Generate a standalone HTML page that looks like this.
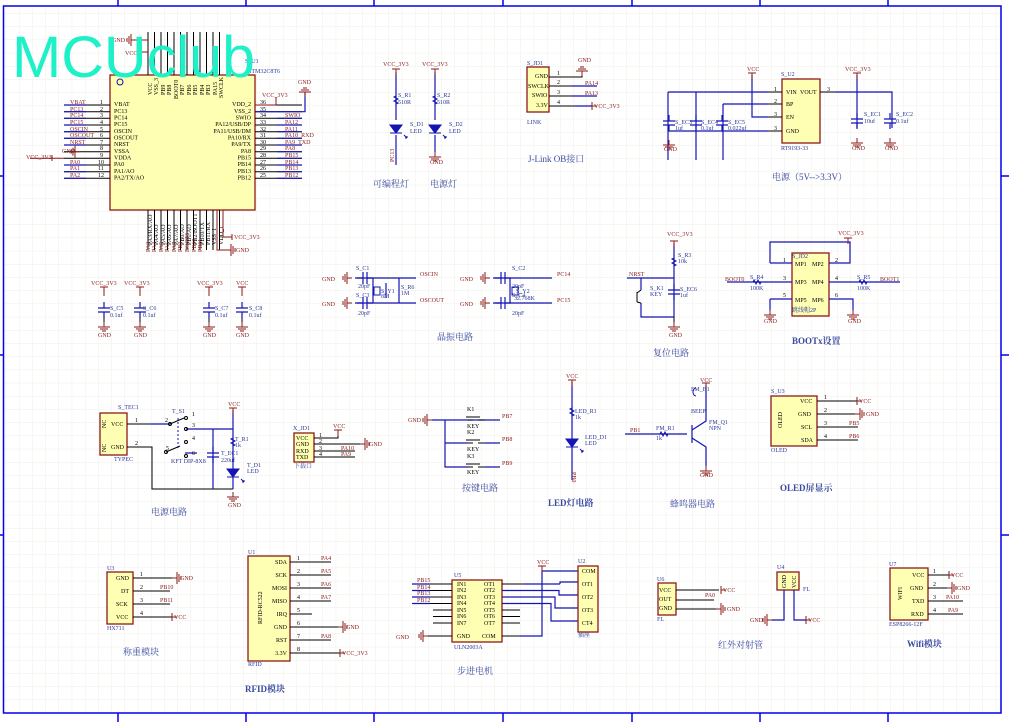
<!DOCTYPE html>
<html><head><meta charset="utf-8"><style>
html,body{margin:0;padding:0;background:#fff;}
svg{display:block;font-family:"Liberation Serif","Noto Serif CJK SC",serif;}
.w{stroke:#1414b4;stroke-width:1.2;fill:none}
.k{stroke:#000;stroke-width:1;fill:none}
.rd{stroke:#8b1a1a;stroke-width:1;fill:none}
.box{fill:#ffffb4;stroke:#8b1a1a;stroke-width:1.3}
.t{font-size:6px;fill:#000}
.r{font-size:6px;fill:#8b1a1a}
.b{font-size:6px;fill:#2a3a9a}
.h{font-size:9px;fill:#3a4aa0;font-family:"Liberation Serif","Noto Serif CJK SC",serif}
.bd{stroke:#0000ee;stroke-width:1.5;fill:none}
</style></head><body>
<svg width="1009" height="722" viewBox="0 0 1009 722" xmlns="http://www.w3.org/2000/svg">
<defs>
<pattern id="g" x="5.7" y="0" width="13.2" height="13.2" patternUnits="userSpaceOnUse">
<path d="M0 0H13.2M0 0V13.2" stroke="#efede6" stroke-width="1" fill="none"/>
</pattern>
<g id="gd"><path d="M0 -5V0M-6 0H6M-4 2H4M-2 4H2" stroke="#8b1a1a" stroke-width="1" fill="none"/></g>
<g id="gl"><path d="M0 0H-5M-5 -6V6M-7 -4V4M-9 -2V2" stroke="#8b1a1a" stroke-width="1" fill="none"/></g>
<g id="gr"><path d="M0 0H5M5 -6V6M7 -4V4M9 -2V2" stroke="#8b1a1a" stroke-width="1" fill="none"/></g>
<g id="pu"><path d="M0 0V6M-4 0H4" stroke="#8b1a1a" stroke-width="1" fill="none"/></g>
<g id="pr"><path d="M0 0H-5M0 -4V4" stroke="#8b1a1a" stroke-width="1" fill="none"/></g>
<g id="cv"><path d="M0 -8V-2M-6 -2H6M-6 2H6M0 2V8" stroke="#1414b4" stroke-width="1.2" fill="none"/></g>
<g id="ch"><path d="M-8 0H-2M-2 -6V6M2 -6V6M2 0H8" stroke="#1414b4" stroke-width="1.2" fill="none"/></g>
<g id="rv"><path d="M0 -7V-4L-2 -3L2 -1L-2 1L2 3L0 4V7" stroke="#1414b4" stroke-width="1" fill="none"/></g>
<g id="rh"><path d="M-7 0H-4L-3 -2L-1 2L1 -2L3 2L4 0H7" stroke="#1414b4" stroke-width="1" fill="none"/></g>
<g id="led"><path d="M-6 -4H6L0 4ZM-6 4H6" fill="#1414b4" stroke="#1414b4"/><path d="M8 6l3 3M11 9l-2 0M11 9l0 -2" stroke="#1414b4"/></g>
</defs>
<rect x="3.5" y="6" width="997.5" height="707" fill="url(#g)"/>
<rect x="3.5" y="6" width="997.5" height="707" class="bd"/>
<path class="bd" d="M118 0V6M246 0V6M374 0V6M503 0V6M632 0V6M760 0V6M888 0V6M118 713V722M246 713V722M374 713V722M503 713V722M632 713V722M760 713V722M888 713V722M0 176H3.5M0 355H3.5M0 535H3.5M1001 176H1009M1001 355H1009M1001 535H1009" stroke-width="1"/>

<!-- MCU -->
<rect class="box" x="110" y="75" width="145" height="135"/>
<circle cx="120" cy="82" r="3" fill="none" stroke="#1414b4"/>
<g class="k">
<path d="M64 105H110M64 111.7H110M64 118.3H110M64 125H110M64 131.7H110M64 138.3H110M64 145H110M64 151.7H110M64 158.3H110M64 165H110M64 171.7H110M64 178.3H110"/>
<path d="M255 105H302M255 111.7H302M255 118.3H302M255 125H302M255 131.7H302M255 138.3H302M255 145H302M255 151.7H302M255 158.3H302M255 165H302M255 171.7H302M255 178.3H302"/>
<path d="M148 32V75M154.5 32V75M161 32V75M167.5 32V75M174 32V75M180.5 32V75M187 32V75M193.5 32V75M200 32V75M206.5 32V75M213 32V75M219.5 32V75"/>
<path d="M148 210V250M154.5 210V250M161 210V250M167.5 210V250M174 210V250M180.5 210V250M187 210V250M193.5 210V250M200 210V250M206.5 210V250M213 210V250M219.5 210V250"/>
</g>
<g class="w"><path d="M64 105H86M64 111.7H86M64 118.3H86M64 125H86M64 131.7H86M64 138.3H86M64 145H86M64 165H86M64 171.7H86M64 178.3H86"/>
<path d="M277 118.3H302M277 125H302M277 131.7H302M277 138.3H302M277 145H302M277 151.7H302M277 158.3H302M277 165H302M277 171.7H302M277 178.3H302M255 111.7H305V92"/></g>
<use href="#gd" x="305" y="92" transform="rotate(180 305 92)"/>
<text class="r" x="298" y="84">GND</text>
<path class="rd" d="M255 105H276V97"/><text class="r" x="262" y="97">VCC_3V3</text>
<g class="t" font-size="5.5">
<text x="114" y="106">VBAT</text><text x="114" y="113">PC13</text><text x="114" y="119.5">PC14</text><text x="114" y="126">PC15</text><text x="114" y="133">OSCIN</text><text x="114" y="139.5">OSCOUT</text><text x="114" y="146">NRST</text><text x="114" y="153">VSSA</text><text x="114" y="159.5">VDDA</text><text x="114" y="166">PA0</text><text x="114" y="173">PA1/AO</text><text x="114" y="179.5">PA2/TX/AO</text>
<text x="251" y="106" text-anchor="end">VDD_2</text><text x="251" y="113" text-anchor="end">VSS_2</text><text x="251" y="119.5" text-anchor="end">SWIO</text><text x="251" y="126" text-anchor="end">PA12/USB/DP</text><text x="251" y="133" text-anchor="end">PA11/USB/DM</text><text x="251" y="139.5" text-anchor="end">PA10/RX</text><text x="251" y="146" text-anchor="end">PA9/TX</text><text x="251" y="153" text-anchor="end">PA8</text><text x="251" y="159.5" text-anchor="end">PB15</text><text x="251" y="166" text-anchor="end">PB14</text><text x="251" y="173" text-anchor="end">PB13</text><text x="251" y="179.5" text-anchor="end">PB12</text>
<text x="100" y="104">1</text><text x="100" y="111">2</text><text x="100" y="117">3</text><text x="100" y="124">4</text><text x="100" y="131">5</text><text x="100" y="137">6</text><text x="100" y="144">7</text><text x="100" y="150">8</text><text x="100" y="157">9</text><text x="98" y="164">10</text><text x="98" y="170">11</text><text x="98" y="177">12</text>
<text x="260" y="104">36</text><text x="260" y="111">35</text><text x="260" y="117">34</text><text x="260" y="124">33</text><text x="260" y="131">32</text><text x="260" y="137">31</text><text x="260" y="144">30</text><text x="260" y="150">29</text><text x="260" y="157">28</text><text x="260" y="164">27</text><text x="260" y="170">26</text><text x="260" y="177">25</text>
</g>
<g class="r" font-size="5.5">
<text x="70" y="104">VBAT</text><text x="70" y="111">PC13</text><text x="70" y="117">PC14</text><text x="70" y="124">PC15</text><text x="70" y="131">OSCIN</text><text x="70" y="137">OSCOUT</text><text x="70" y="144">NRST</text><text x="62" y="153">GND</text><text x="26" y="159">VCC_3V3</text><text x="70" y="164">PA0</text><text x="70" y="170">PA1</text><text x="70" y="177">PA2</text>
<text x="285" y="117">SWIO</text><text x="285" y="124">PA12</text><text x="285" y="131">PA11</text><text x="285" y="137">PA10_RXD</text><text x="285" y="144">PA9_TXD</text><text x="285" y="150">PA8</text><text x="285" y="157">PB15</text><text x="285" y="164">PB14</text><text x="285" y="170">PB13</text><text x="285" y="177">PB12</text>
</g>
<use href="#gl" x="80" y="151.7"/><path class="rd" d="M30 158.3H64M52 155V161"/>
<g class="t" font-size="5">
<text transform="translate(152 95) rotate(-90)">VCC</text><text transform="translate(158 95) rotate(-90)">VSS_3</text><text transform="translate(165 95) rotate(-90)">PB9</text><text transform="translate(171 95) rotate(-90)">PB8</text><text transform="translate(178 99) rotate(-90)">BOOT0</text><text transform="translate(184 95) rotate(-90)">PB7</text><text transform="translate(191 95) rotate(-90)">PB6</text><text transform="translate(197 95) rotate(-90)">PB5</text><text transform="translate(204 95) rotate(-90)">PB4</text><text transform="translate(210 95) rotate(-90)">PB3</text><text transform="translate(217 95) rotate(-90)">PA15</text><text transform="translate(223 98) rotate(-90)">SWCLK</text>
<text transform="translate(152 245) rotate(-90)">PA3/RX/AO</text><text transform="translate(158 245) rotate(-90)">PA4/AO</text><text transform="translate(165 245) rotate(-90)">PA5/AO</text><text transform="translate(171 245) rotate(-90)">PA6/AO</text><text transform="translate(178 245) rotate(-90)">PA7/AO</text><text transform="translate(184 245) rotate(-90)">PB0/AO</text><text transform="translate(191 245) rotate(-90)">PB1/AO</text><text transform="translate(197 245) rotate(-90)">PB2/BOOT1</text><text transform="translate(204 245) rotate(-90)">PB10/TX</text><text transform="translate(210 245) rotate(-90)">PB11/RX</text><text transform="translate(216 245) rotate(-90)">VSS_1</text><text transform="translate(223 245) rotate(-90)">VDD_1</text>
</g>
<g class="r" font-size="5"><text transform="translate(150 252) rotate(-90)">PA3</text><text transform="translate(156 252) rotate(-90)">PA4</text><text transform="translate(163 252) rotate(-90)">PA5</text><text transform="translate(169 252) rotate(-90)">PA6</text><text transform="translate(176 252) rotate(-90)">PA7</text><text transform="translate(182 252) rotate(-90)">PB0</text><text transform="translate(189 252) rotate(-90)">BOOT1</text><text transform="translate(196 252) rotate(-90)">PB10</text><text transform="translate(202 252) rotate(-90)">PB11</text></g>
<path class="rd" d="M223 210V237H232M232 234V240M217 210V250H226"/><use href="#gr" x="226" y="250"/>
<text class="r" x="234" y="239">VCC_3V3</text><text class="r" x="236" y="252">GND</text>
<path class="rd" d="M148 40H136M148 52H138"/><use href="#gl" x="136" y="40"/><text class="r" x="112" y="42">GND</text><text class="r" x="125" y="55">VCC</text>
<text class="b" x="245" y="63">S_U1</text><text class="b" x="248" y="73">STM32C8T6</text>
<text x="12" y="77" font-family="Liberation Sans,sans-serif" font-size="58" fill="#1ef0c8" textLength="243" lengthAdjust="spacingAndGlyphs">MCUclub</text>

<!-- decoupling caps -->
<g>
<path class="rd" d="M104 287V296M140 287V296M209 287V296M242 287V296"/>
<use href="#pu" x="104" y="287"/><use href="#pu" x="140" y="287"/><use href="#pu" x="209" y="287"/><use href="#pu" x="242" y="287"/>
<use href="#cv" x="104" y="310"/><use href="#cv" x="140" y="310"/><use href="#cv" x="209" y="310"/><use href="#cv" x="242" y="310"/>
<use href="#gd" x="104" y="327"/><use href="#gd" x="140" y="327"/><use href="#gd" x="209" y="327"/><use href="#gd" x="242" y="327"/>
<path class="k" d="M104 318V322M140 318V322M209 318V322M242 318V322"/>
<text class="r" x="91" y="285">VCC_3V3</text><text class="r" x="124" y="285">VCC_3V3</text><text class="r" x="197" y="285">VCC_3V3</text><text class="r" x="236" y="285">VCC</text>
<text class="b" x="110" y="310">S_C5</text><text class="b" x="110" y="317">0.1uf</text><text class="b" x="143" y="310">S_C6</text><text class="b" x="143" y="317">0.1uf</text><text class="b" x="215" y="310">S_C7</text><text class="b" x="215" y="317">0.1uf</text><text class="b" x="249" y="310">S_C8</text><text class="b" x="249" y="317">0.1uf</text>
<text class="r" x="98" y="337">GND</text><text class="r" x="134" y="337">GND</text><text class="r" x="203" y="337">GND</text><text class="r" x="236" y="337">GND</text>
</g>

<!-- LEDs -->
<path class="w" d="M396 72V120M396 135V165M435 72V120M435 135V152"/>
<use href="#pu" x="396" y="69"/><use href="#pu" x="435" y="69"/>
<use href="#rv" x="396" y="100"/><use href="#rv" x="435" y="100"/>
<use href="#led" x="396" y="129"/><use href="#led" x="435" y="129"/>
<use href="#gd" x="435" y="157"/>
<text class="r" x="383" y="66">VCC_3V3</text><text class="r" x="422" y="66">VCC_3V3</text>
<text class="b" x="398" y="97">S_R1</text><text class="b" x="398" y="104">510R</text><text class="b" x="437" y="97">S_R2</text><text class="b" x="437" y="104">510R</text>
<text class="b" x="410" y="126">S_D1</text><text class="b" x="410" y="133">LED</text><text class="b" x="449" y="126">S_D2</text><text class="b" x="449" y="133">LED</text>
<text class="r" transform="translate(394 162) rotate(-90)">PC13</text><text class="r" x="430" y="164">GND</text>
<text class="h" x="373" y="187">可编程灯</text><text class="h" x="430" y="187">电源灯</text>

<!-- J-Link -->
<rect class="box" x="527" y="67" width="22" height="45"/>
<path class="k" d="M549 77H582V71M549 86H597M549 96H597M549 106H592"/>
<path class="w" d="M572 86H597M572 96H597M575 106H592"/>
<use href="#gd" x="582" y="71" transform="rotate(180 582 71)"/>
<use href="#pr" x="592" y="106" transform="rotate(180 592 106)"/>
<g class="t" font-size="5"><text x="535" y="78">GND</text><text x="528" y="88">SWCLK</text><text x="532" y="97">SWIO</text><text x="536" y="107">3.3V</text><text x="557" y="75">1</text><text x="557" y="84">2</text><text x="557" y="94">3</text><text x="557" y="104">4</text></g>
<text class="b" x="527" y="65">S_JD1</text><text class="b" x="527" y="124">LINK</text>
<text class="r" x="578" y="62">GND</text><text class="r" x="585" y="85">PA14</text><text class="r" x="585" y="95">PA13</text><text class="r" x="594" y="108">VCC_3V3</text>
<text class="h" x="528" y="162">J-Link OB接口</text>

<!-- power RT9193 -->
<rect class="box" x="782" y="79" width="38" height="64"/>
<path class="k" d="M782 92H768M782 104H768M782 117H768M782 131H768M820 92H835"/>
<path class="w" d="M668 92H768M752 75V117H768M723 104H768V104M668 92V160M696 92V160M723 104V160M668 131H768M835 92H892V128M857 75V128M857 92H835"/>
<use href="#cv" x="669" y="123"/><use href="#cv" x="696" y="123"/><use href="#cv" x="722" y="123"/><use href="#cv" x="857" y="121"/><use href="#cv" x="890" y="121"/>
<use href="#pu" x="752" y="73"/><use href="#pu" x="857" y="73"/>
<use href="#gd" x="669" y="145"/><use href="#gd" x="857" y="143"/><use href="#gd" x="890" y="143"/>
<g class="t" font-size="5.5"><text x="786" y="94">VIN</text><text x="800" y="94">VOUT</text><text x="786" y="106">BP</text><text x="786" y="119">EN</text><text x="786" y="133">GND</text><text x="774" y="91">1</text><text x="774" y="103">2</text><text x="774" y="116">3</text><text x="774" y="130">3</text><text x="827" y="91">3</text></g>
<text class="r" x="747" y="71">VCC</text><text class="r" x="845" y="71">VCC_3V3</text>
<text class="b" x="781" y="76">S_U2</text><text class="b" x="781" y="150">RT9193-33</text>
<text class="b" x="675" y="124">S_EC3</text><text class="b" x="675" y="130">1uf</text><text class="b" x="701" y="124">S_EC4</text><text class="b" x="701" y="130">0.1uf</text><text class="b" x="728" y="124">S_EC5</text><text class="b" x="728" y="130">0.022uf</text>
<text class="b" x="864" y="116">S_EC1</text><text class="b" x="864" y="123">10uf</text><text class="b" x="896" y="116">S_EC2</text><text class="b" x="896" y="123">0.1uf</text>
<text class="r" x="664" y="151">GND</text><text class="r" x="852" y="150">GND</text><text class="r" x="885" y="150">GND</text>
<text class="h" x="772" y="180">电源（5V--&gt;3.3V）</text>

<!-- crystals -->
<path class="w" d="M355 278H416M355 303H416M373 278V303M399 278V303M386 283V298"/>
<use href="#ch" x="365" y="278"/><use href="#ch" x="365" y="303"/>
<rect x="374" y="287" width="6" height="8" fill="none" stroke="#1414b4"/>
<use href="#gl" x="352" y="278"/><use href="#gl" x="352" y="303"/>
<path class="w" d="M493 278H552M493 303H552M510 278V303"/>
<use href="#ch" x="503" y="278"/><use href="#ch" x="503" y="303"/>
<rect x="512" y="287" width="6" height="8" fill="none" stroke="#1414b4"/>
<use href="#gl" x="490" y="278"/><use href="#gl" x="490" y="303"/>
<text class="r" x="322" y="281">GND</text><text class="r" x="322" y="306">GND</text><text class="r" x="460" y="281">GND</text><text class="r" x="460" y="306">GND</text>
<text class="r" x="420" y="276">OSCIN</text><text class="r" x="420" y="302">OSCOUT</text><text class="r" x="557" y="276">PC14</text><text class="r" x="557" y="302">PC15</text>
<g class="b" font-size="5"><text x="356" y="270">S_C1</text><text x="358" y="288">20pF</text><text x="356" y="297">S_C3</text><text x="358" y="315">20pF</text><text x="381" y="293">S_Y1</text><text x="381" y="298">8M</text><text x="401" y="289">S_R6</text><text x="401" y="295">1M</text><text x="512" y="270">S_C2</text><text x="512" y="288">20pF</text><text x="512" y="297">S_C4</text><text x="512" y="315">20pF</text><text x="516" y="293">S_Y2</text><text x="514" y="300">32.768K</text></g>
<text class="h" x="437" y="340">晶振电路</text>

<!-- reset -->
<path class="w" d="M627 278H641V290M641 303V314H641V317H674V243M674 278H641M674 290V300"/>
<use href="#rv" x="674" y="262"/><use href="#cv" x="674" y="292"/>
<path class="k" d="M637 292V302M641 290l-4 3M641 303l-4-1"/>
<use href="#pu" x="674" y="241"/><use href="#gd" x="674" y="327"/><path class="k" d="M674 317V322"/>
<text class="r" x="667" y="236">VCC_3V3</text><text class="r" x="629" y="276">NRST</text><text class="r" x="669" y="337">GND</text>
<g class="b" font-size="5"><text x="678" y="257">S_R3</text><text x="678" y="263">10k</text><text x="650" y="290">S_K1</text><text x="650" y="296">KEY</text><text x="680" y="291">S_EC6</text><text x="680" y="297">1uf</text></g>
<text class="h" x="653" y="356">复位电路</text>

<!-- BOOTx -->
<rect class="box" x="792" y="253" width="37" height="63"/>
<path class="w" d="M727 282H792M829 282H900M770 263H792M770 263V242H850V263H829M770 299H792M770 299V310M829 299H853V310"/>
<use href="#rh" x="757" y="282"/><use href="#rh" x="863" y="282"/>
<use href="#pu" x="848" y="238"/><use href="#gd" x="770" y="315"/><use href="#gd" x="853" y="315"/>
<g class="t" font-size="5.5"><text x="795" y="266">MP1</text><text x="812" y="266">MP2</text><text x="795" y="284">MP3</text><text x="812" y="284">MP4</text><text x="795" y="302">MP5</text><text x="812" y="302">MP6</text><text x="783" y="262">1</text><text x="835" y="262">2</text><text x="783" y="280">3</text><text x="835" y="280">4</text><text x="783" y="297">5</text><text x="835" y="297">6</text></g>
<text class="r" x="838" y="235">VCC_3V3</text><text class="r" x="725" y="281">BOOT0</text><text class="r" x="880" y="281">BOOT1</text><text class="r" x="764" y="323">GND</text><text class="r" x="848" y="323">GND</text>
<g class="b" font-size="5"><text x="792" y="258">S_JD2</text><text x="750" y="279">S_R4</text><text x="750" y="290">100K</text><text x="857" y="279">S_R5</text><text x="857" y="290">100K</text><text x="792" y="312">跳线帽2P</text></g>
<text class="h" x="792" y="344" font-weight="bold">BOOTx设置</text>

<!-- power circuit TYPEC -->
<rect class="box" x="100" y="413" width="27" height="42"/>
<path class="k" d="M127 424H150M127 447H152V489H233"/>
<path class="w" d="M150 424H170M186 429H233M233 410V489M213 429V489M185 453H197"/>
<use href="#pu" x="233" y="408"/><use href="#rv" x="233" y="442"/><use href="#led" x="233" y="473"/><use href="#cv" x="213" y="455"/><use href="#gd" x="233" y="497"/>
<path class="k" d="M170 424l14-6M166 452l14-6" stroke="#1414b4"/><path d="M178 418V448" stroke="#1414b4" stroke-dasharray="2 2"/>
<g fill="none" stroke="#000"><circle cx="170" cy="424" r="1.5"/><circle cx="186" cy="418" r="1.5"/><circle cx="186" cy="429" r="1.5"/><circle cx="186" cy="442" r="1.5"/><circle cx="166" cy="452" r="1.5"/><circle cx="186" cy="456" r="1.5"/></g>
<g class="t" font-size="5.5"><text x="111" y="426">VCC</text><text x="111" y="449">GND</text><text transform="translate(106 428) rotate(-90)">NC</text><text transform="translate(106 452) rotate(-90)">NC</text><text x="135" y="422">1</text><text x="135" y="445">2</text><text x="165" y="422">2</text><text x="192" y="416">1</text><text x="192" y="427">3</text><text x="192" y="440">4</text><text x="166" y="450">5</text><text x="192" y="455">6</text></g>
<text class="b" x="118" y="409">S_TEC1</text><text class="b" x="114" y="461">TYPEC</text><text class="b" x="172" y="413">T_S1</text><text class="b" x="171" y="463">KFT DIP-8X8</text>
<text class="b" x="235" y="441">T_R1</text><text class="b" x="235" y="447">1k</text><text class="b" x="221" y="455">T_EC1</text><text class="b" x="221" y="462">220uf</text><text class="b" x="247" y="467">T_D1</text><text class="b" x="247" y="473">LED</text>
<text class="r" x="228" y="406">VCC</text><text class="r" x="228" y="507">GND</text>
<text class="h" x="151" y="515">电源电路</text>

<!-- X_JD1 -->
<rect class="box" x="294" y="433" width="20" height="29"/>
<path class="k" d="M314 438H338V432M314 444H360M314 451H355M314 457H355"/>
<use href="#gr" x="360" y="444"/><use href="#pu" x="338" y="430"/>
<g class="t" font-size="5.5"><text x="296" y="440">VCC</text><text x="296" y="446">GND</text><text x="296" y="453">RXD</text><text x="296" y="459">TXD</text><text x="319" y="437">1</text><text x="319" y="443">2</text><text x="319" y="450">3</text><text x="319" y="456">4</text></g>
<text class="b" x="293" y="430">X_JD1</text><text class="b" x="294" y="468">下载口</text><text class="r" x="333" y="428">VCC</text><text class="r" x="369" y="446">GND</text><text class="r" x="341" y="450">PA10</text><text class="r" x="341" y="456">PA9</text>

<!-- keys -->
<path class="w" d="M432 420H500M445 420V467H468M445 443H468M485 420H500M485 443H500M485 467H500"/>
<path class="k" d="M468 420H473M478 420H485M468 443H473M478 443H485M468 467H473M478 467H485M466 417H480M466 440H480M466 464H480"/>
<use href="#gl" x="432" y="420"/>
<text class="r" x="408" y="422">GND</text><text class="r" x="502" y="418">PB7</text><text class="r" x="502" y="441">PB8</text><text class="r" x="502" y="465">PB9</text>
<g class="t" font-size="5.5"><text x="467" y="411">K1</text><text x="467" y="428">KEY</text><text x="467" y="434">K2</text><text x="467" y="451">KEY</text><text x="467" y="458">K3</text><text x="467" y="474">KEY</text></g>
<text class="h" x="462" y="491">按键电路</text>

<!-- LED circuit -->
<path class="w" d="M572 382V480"/><use href="#pu" x="572" y="380"/><use href="#rv" x="572" y="412"/><use href="#led" x="572" y="443"/>
<text class="r" x="566" y="378">VCC</text><text class="b" x="575" y="413">LED_R1</text><text class="b" x="575" y="419">1k</text><text class="b" x="585" y="439">LED_D1</text><text class="b" x="585" y="445">LED</text><text class="r" transform="translate(572 472) rotate(90)">PB0</text>
<text class="h" x="548" y="506" font-weight="bold">LED灯电路</text>

<!-- buzzer -->
<path class="w" d="M625 434H687M692 425V443M692 430L706 421V385M692 438L706 447V466"/>
<use href="#rh" x="664" y="434"/><use href="#pu" x="706" y="383"/><use href="#gd" x="706" y="471"/>
<path d="M696 388a3 4 0 0 0 0 8" stroke="#1414b4" fill="none"/>
<text class="r" x="700" y="382">VCC</text><text class="r" x="630" y="432">PB1</text><text class="r" x="700" y="477">GND</text>
<g class="b" font-size="5"><text x="691" y="391">FM_B1</text><text x="691" y="413">BEEP</text><text x="709" y="424">FM_Q1</text><text x="709" y="430">NPN</text><text x="656" y="430">FM_R1</text><text x="656" y="440">1k</text></g>
<text class="h" x="670" y="507">蜂鸣器电路</text>

<!-- OLED -->
<rect class="box" x="771" y="396" width="46" height="50"/>
<path class="k" d="M817 401H857M817 414H855M817 427H858M817 440H858"/>
<use href="#gr" x="855" y="414"/><use href="#pr" x="857" y="401" transform="rotate(180 857 401)"/>
<g class="t" font-size="5.5"><text x="800" y="403">VCC</text><text x="798" y="416">GND</text><text x="801" y="429">SCL</text><text x="801" y="442">SDA</text><text x="824" y="399">1</text><text x="824" y="412">2</text><text x="824" y="425">3</text><text x="824" y="438">4</text><text transform="translate(782 428) rotate(-90)">OLED</text></g>
<text class="b" x="771" y="393">S_U3</text><text class="b" x="771" y="452">OLED</text>
<text class="r" x="859" y="403">VCC</text><text class="r" x="866" y="416">GND</text><text class="r" x="849" y="425">PB5</text><text class="r" x="849" y="438">PB6</text>
<text class="h" x="780" y="491" font-weight="bold">OLED屏显示</text>

<!-- HX711 -->
<rect class="box" x="107" y="572" width="26" height="52"/>
<path class="k" d="M133 578H172M133 591H170M133 604H170M133 617H172"/>
<use href="#gr" x="172" y="578"/><use href="#pr" x="172" y="617" transform="rotate(180 172 617)"/>
<g class="t" font-size="5.5"><text x="116" y="580">GND</text><text x="121" y="593">DT</text><text x="116" y="606">SCK</text><text x="116" y="619">VCC</text><text x="140" y="576">1</text><text x="140" y="589">2</text><text x="140" y="602">3</text><text x="140" y="615">4</text></g>
<text class="b" x="107" y="570">U3</text><text class="b" x="107" y="630">HX711</text>
<text class="r" x="180" y="580">GND</text><text class="r" x="160" y="589">PB10</text><text class="r" x="160" y="602">PB11</text><text class="r" x="174" y="619">VCC</text>
<text class="h" x="123" y="655">称重模块</text>

<!-- RFID -->
<rect class="box" x="248" y="556" width="42" height="105"/>
<path class="k" d="M290 562H331M290 575H331M290 588H331M290 601H331M290 614H312M290 627H340M290 640H331M290 653H340"/>
<use href="#gr" x="338" y="627"/><use href="#pr" x="340" y="653" transform="rotate(180 340 653)"/>
<g class="t" font-size="5.5"><text x="287" y="564" text-anchor="end">SDA</text><text x="287" y="577" text-anchor="end">SCK</text><text x="287" y="590" text-anchor="end">MOSI</text><text x="287" y="603" text-anchor="end">MISO</text><text x="287" y="616" text-anchor="end">IRQ</text><text x="287" y="629" text-anchor="end">GND</text><text x="287" y="642" text-anchor="end">RST</text><text x="287" y="655" text-anchor="end">3.3V</text>
<text x="297" y="560">1</text><text x="297" y="573">2</text><text x="297" y="586">3</text><text x="297" y="599">4</text><text x="297" y="612">5</text><text x="297" y="625">6</text><text x="297" y="638">7</text><text x="297" y="651">8</text><text transform="translate(262 624) rotate(-90)">RFID-RC522</text></g>
<text class="b" x="248" y="554">U1</text><text class="b" x="248" y="666">RFID</text>
<g class="r"><text x="321" y="560">PA4</text><text x="321" y="573">PA5</text><text x="321" y="586">PA6</text><text x="321" y="599">PA7</text><text x="346" y="629">GND</text><text x="321" y="638">PA8</text><text x="342" y="655">VCC_3V3</text></g>
<text class="h" x="245" y="692" font-weight="bold">RFID模块</text>

<!-- ULN2003 -->
<rect class="box" x="452" y="580" width="50" height="62"/>
<path class="k" d="M412 584H452M412 590.5H452M412 597H452M412 603.5H452M433 610H452M433 616.5H452M433 623H452M428 636H452M502 584H524M502 590.5H524M502 597H524M502 603.5H524M502 610H520M502 616.5H520M502 623H520M502 636H520"/>
<path class="w" d="M412 584H430M412 590.5H430M412 597H430M412 603.5H430M524 584H560M502 590.5H559V595H578M502 597H555V608H578M502 603.5H551V621H578M520 636H542V571H578M560 584H560V582H578"/>
<use href="#gl" x="428" y="636"/><use href="#pu" x="542" y="566"/>
<g class="t" font-size="5"><text x="457" y="586">IN1</text><text x="457" y="592">IN2</text><text x="457" y="599">IN3</text><text x="457" y="605">IN4</text><text x="457" y="612">IN5</text><text x="457" y="618">IN6</text><text x="457" y="625">IN7</text><text x="457" y="638">GND</text><text x="484" y="586">OT1</text><text x="484" y="592">OT2</text><text x="484" y="599">OT3</text><text x="484" y="605">OT4</text><text x="484" y="612">OT5</text><text x="484" y="618">OT6</text><text x="484" y="625">OT7</text><text x="482" y="638">COM</text></g>
<text class="b" x="454" y="577">U5</text><text class="b" x="454" y="649">ULN2003A</text>
<g class="r" font-size="5"><text x="417" y="582">PB15</text><text x="417" y="589">PB14</text><text x="417" y="595">PB13</text><text x="417" y="602">PB12</text><text x="396" y="639">GND</text><text x="537" y="564">VCC</text></g>
<rect class="box" x="578" y="566" width="20" height="66"/>
<g class="t" font-size="5"><text x="582" y="573">COM</text><text x="582" y="586">OT1</text><text x="582" y="599">OT2</text><text x="582" y="612">OT3</text><text x="582" y="625">CT4</text></g>
<text class="b" x="578" y="563">U2</text><text class="b" x="578" y="637">插座</text>
<text class="h" x="457" y="674">步进电机</text>

<!-- U6 -->
<rect class="box" x="658" y="583" width="18" height="32"/>
<path class="k" d="M676 590H719M676 600H714M676 609H716"/>
<use href="#pr" x="721" y="590" transform="rotate(180 721 590)"/><use href="#gr" x="716" y="609"/>
<g class="t" font-size="5"><text x="659" y="592">VCC</text><text x="659" y="601">OUT</text><text x="659" y="610">GND</text></g>
<text class="b" x="657" y="581">U6</text><text class="b" x="657" y="621">FL</text><text class="r" x="723" y="592">VCC</text><text class="r" x="705" y="597">PA0</text><text class="r" x="727" y="611">GND</text>
<rect class="box" x="777" y="572" width="22" height="18"/>
<path class="w" d="M784 590V620H772M794 590V620H806"/>
<use href="#gl" x="772" y="620"/><use href="#pr" x="806" y="620" transform="rotate(180 806 620)"/>
<text class="b" x="777" y="569">U4</text><text class="b" x="803" y="591">FL</text><text class="r" x="750" y="622">GND</text><text class="r" x="808" y="622">VCC</text>
<g class="t" font-size="5"><text transform="translate(786 588) rotate(-90)">GND</text><text transform="translate(796 588) rotate(-90)">VCC</text></g>
<text class="h" x="718" y="648">红外对射管</text>

<!-- WiFi -->
<rect class="box" x="890" y="568" width="38" height="52"/>
<path class="k" d="M928 575H949M928 588H947M928 601H963M928 614H963"/>
<use href="#pr" x="949" y="575" transform="rotate(180 949 575)"/><use href="#gr" x="947" y="588"/>
<g class="t" font-size="5"><text x="912" y="577">VCC</text><text x="910" y="590">GND</text><text x="912" y="603">TXD</text><text x="911" y="616">RXD</text><text x="933" y="573">1</text><text x="933" y="586">2</text><text x="933" y="599">3</text><text x="933" y="612">4</text><text transform="translate(902 600) rotate(-90)">WIFI</text></g>
<text class="b" x="889" y="566">U7</text><text class="b" x="889" y="626">ESP8266-12F</text>
<text class="r" x="951" y="577">VCC</text><text class="r" x="957" y="590">GND</text><text class="r" x="946" y="599">PA10</text><text class="r" x="948" y="612">PA9</text>
<text class="h" x="907" y="647" font-weight="bold">Wifi模块</text>
</svg>
</body></html>
